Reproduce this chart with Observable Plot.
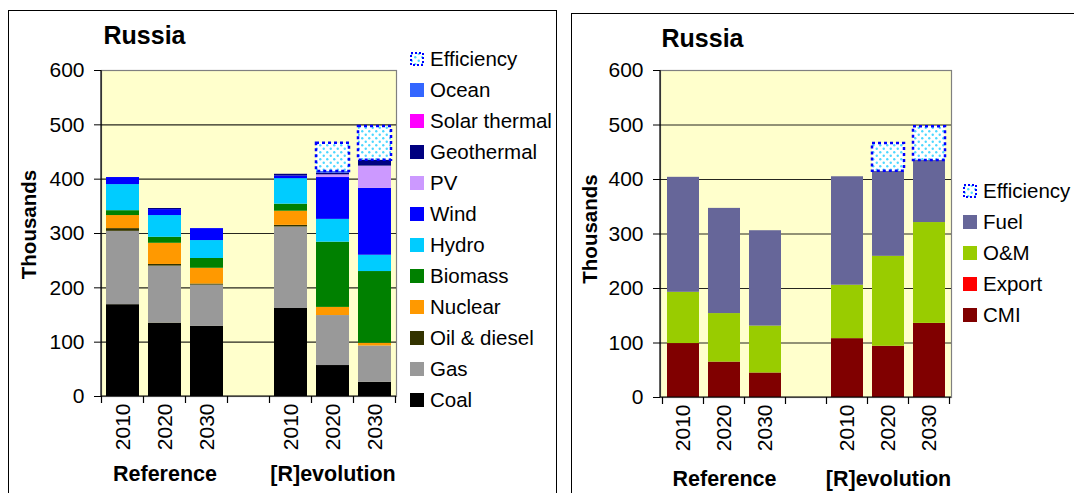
<!DOCTYPE html>
<html><head><meta charset="utf-8">
<script src="https://cdn.jsdelivr.net/npm/d3@7"></script>
<script src="https://cdn.jsdelivr.net/npm/@observablehq/plot@0.6"></script>
<style>
body{margin:0;background:#fff;font-family:"Liberation Sans",Arial,sans-serif;}
#root{position:relative;width:1074px;height:493px;overflow:hidden;background:#fff;}
.panel{position:absolute;border:1.5px solid #000;box-sizing:border-box;}
.chart{position:absolute;top:0;}
.leg{position:absolute;font-size:20.5px;line-height:20px;white-space:nowrap;color:#000;}
.sw{position:absolute;width:14px;height:14px;}
</style></head><body>
<svg width="0" height="0" style="position:absolute">
<defs>
<pattern id="effPat" width="7" height="7" patternUnits="userSpaceOnUse">
<rect width="7" height="7" fill="#fff"/>
<circle cx="1.75" cy="1.75" r="1.2" fill="#4DD8FF"/>
<circle cx="5.25" cy="5.25" r="1.2" fill="#4DD8FF"/>
</pattern>
</defs>
</svg>
<div id="root"></div>
<script>
// ---------- data ----------
const title = "Russia";
const yLabel = "Thousands";
const years = ["2010", "2020", "2030"];
const scenarios = ["Reference", "[R]evolution"];
const yTicks = [0, 100, 200, 300, 400, 500, 600];
const gridTicks = [100, 200, 300, 400, 500];

// left chart: generation sources (order: Ref 2010, 2020, 2030, Rev 2010, 2020, 2030)
const genSources = ["Coal", "Gas", "Oil & diesel", "Nuclear", "Biomass", "Hydro", "Wind", "PV", "Geothermal", "Solar thermal", "Ocean"];
const genColors = ["#000000", "#999999", "#333300", "#FF9900", "#008000", "#00CCFF", "#0000FF", "#CC99FF", "#000080", "#FF00FF", "#3366FF"];
const coal = [169, 135, 129, 162, 57, 26];
const gas = [135, 105, 76, 150, 92, 67];
const oil = [5, 3, 2, 3, 0, 0];
const nuclear = [24, 39, 29, 26, 15, 5];
const biomass = [9, 11, 18, 13, 120, 132];
const hydro = [48, 40, 33, 47, 42, 30];
const wind = [13, 11, 22, 5, 77, 123];
const pv = [0, 0, 0, 0, 5, 41];
const geothermal = [0, 2, 0, 3, 3, 11];
const solarThermal = [0, 0, 0, 0, 0, 0];
const ocean = [0, 0, 0, 0, 3, 0];
const efficiencyGen = [0, 0, 0, 0, 52, 62];

// right chart: cost components
const costSources = ["CMI", "Export", "O&M", "Fuel"];
const costColors = ["#800000", "#FF0000", "#99CC00", "#666699"];
const cmi = [99, 65, 45, 108, 94, 136];
const exportJobs = [0, 0, 0, 0, 0, 0];
const om = [94, 89, 86, 98, 165, 185];
const fuel = [211, 193, 175, 199, 156, 114];
const efficiencyCost = [0, 0, 0, 0, 51, 62];

// ---------- build ----------
const GAP = "gap";
const cats = [
  ...years.map(y => scenarios[0] + "|" + y),
  GAP,
  ...years.map(y => scenarios[1] + "|" + y)
];
const barCats = cats.filter(c => c !== GAP);

function longTable(sources, series) {
  const rows = [];
  barCats.forEach((cat, i) => {
    sources.forEach((s, k) => rows.push({cat, source: s, value: series[k][i]}));
  });
  return rows;
}
function effTable(series, eff) {
  return barCats.map((cat, i) => {
    const total = d3.sum(series, s => s[i]);
    return {cat, y1: total, y2: total + eff[i], eff: eff[i]};
  }).filter(d => d.eff > 0);
}

function axisLines(tickLen) {
  return (index, scales, values, dims) => {
    const x = scales.x;
    const bw = x.bandwidth(), st = x.step();
    const y0 = dims.height - dims.marginBottom;
    const xl = dims.marginLeft, xr = dims.width - dims.marginRight;
    const g = d3.create("svg:g").attr("stroke", "#000").attr("stroke-width", 1.2).attr("fill", "none");
    g.append("line").attr("x1", xl).attr("x2", xl).attr("y1", dims.marginTop).attr("y2", y0);
    g.append("line").attr("x1", xl).attr("x2", xr).attr("y1", y0).attr("y2", y0);
    const xs = cats.map(c => x(c) + bw / 2 - st / 2);
    xs.push(x(cats[cats.length - 1]) + bw / 2 + st / 2);
    for (const v of xs) g.append("line").attr("x1", v).attr("x2", v).attr("y1", y0).attr("y2", y0 + tickLen);
    return g.node();
  };
}

function makeChart({sources, colors, series, eff, width, mL, mR, mT, mB, titleDx, titleDy, yLabDx, yLabDy, groupDy}) {
  const rows = longTable(sources, series);
  const effRows = effTable(series, eff);
  return Plot.plot({
    width, height: 493,
    marginLeft: mL, marginRight: mR, marginTop: mT, marginBottom: mB,
    style: {fontFamily: "'Liberation Sans', Arial, sans-serif", fontSize: "21px", color: "#000", background: "transparent", overflow: "visible"},
    x: {domain: cats, paddingInner: 0.22, paddingOuter: 0.11},
    y: {domain: [0, 600]},
    color: {domain: sources, range: colors},
    marks: [
      Plot.frame({fill: "#FFFFCC", stroke: "#808080", strokeWidth: 1.2}),
      Plot.ruleY(gridTicks, {stroke: "#000", strokeWidth: 1.1, strokeOpacity: 0.85}),
      Plot.barY(rows, {x: "cat", y: "value", fill: "source"}),
      Plot.barY(effRows, {x: "cat", y1: "y1", y2: "y2", fill: "url(#effPat)", stroke: "#0000FF", strokeWidth: 2.5, strokeDasharray: "3,3"}),
      axisLines(7),
      Plot.axisY({ticks: yTicks, tickSize: 7, tickPadding: 10, fontSize: 21, label: null, stroke: "#000"}),
      Plot.axisX({ticks: barCats, tickSize: 0, tickPadding: 7, tickRotate: -90, fontSize: 21, label: null, tickFormat: d => d.split("|")[1]}),
      Plot.text(scenarios, {x: s => s + "|2020", frameAnchor: "bottom", dy: groupDy, fontWeight: "bold", fontSize: 21.5}),
      Plot.text([title], {frameAnchor: "top-left", textAnchor: "start", lineAnchor: "bottom", dx: titleDx, dy: titleDy, fontWeight: "bold", fontSize: 25}),
      Plot.text([yLabel], {frameAnchor: "left", textAnchor: "middle", rotate: -90, dx: yLabDx, dy: yLabDy, fontWeight: "bold", fontSize: 20.5})
    ]
  });
}

const root = document.getElementById("root");

// panels
function panel(left, top, w, h) {
  const d = document.createElement("div");
  d.className = "panel";
  Object.assign(d.style, {left: left + "px", top: top + "px", width: w + "px", height: h + "px"});
  root.appendChild(d);
}
panel(8, 10, 549, 520);
panel(571, 13, 560, 520);

const left = makeChart({
  sources: genSources, colors: genColors,
  series: [coal, gas, oil, nuclear, biomass, hydro, wind, pv, geothermal, solarThermal, ocean],
  eff: efficiencyGen,
  width: 400, mL: 101, mR: 4, mT: 70, mB: 97,
  titleDx: 2, titleDy: -27, yLabDx: -72, yLabDy: -9, groupDy: 84
});
left.classList.add("chart");
left.style.left = "0px";
root.appendChild(left);

const right = makeChart({
  sources: costSources, colors: costColors,
  series: [cmi, exportJobs, om, fuel],
  eff: efficiencyCost,
  width: 400, mL: 100, mR: 9, mT: 70, mB: 96,
  titleDx: 1, titleDy: -24, yLabDx: -70, yLabDy: -5, groupDy: 88
});
right.classList.add("chart");
right.style.left = "560px";
root.appendChild(right);

// legends
function effSwatch() {
  return `<svg class="sw" width="14" height="14" style="left:0;top:3px"><rect x="1" y="1" width="12" height="12" fill="url(#effPat)" stroke="#0000FF" stroke-width="2" stroke-dasharray="2,2"/></svg>`;
}
function legend(x, yTop, step, items) {
  items.forEach((it, i) => {
    const d = document.createElement("div");
    d.className = "leg";
    d.style.left = x + "px";
    d.style.top = (yTop + i * step) + "px";
    d.style.height = "20px";
    d.innerHTML = (it.color ? `<div class="sw" style="left:0;top:3px;background:${it.color}"></div>` : effSwatch()) +
      `<span style="position:absolute;left:20px;top:0">${it.label.replace("&", "&amp;")}</span>`;
    root.appendChild(d);
  });
}
const leftItems = [{label: "Efficiency"}].concat(genSources.map((s, i) => ({label: s, color: genColors[i]})).reverse());
legend(410, 49, 31, leftItems);
const rightItems = [{label: "Efficiency"}].concat(costSources.map((s, i) => ({label: s, color: costColors[i]})).reverse());
legend(963, 181, 31.1, rightItems);
</script>
</body></html>
